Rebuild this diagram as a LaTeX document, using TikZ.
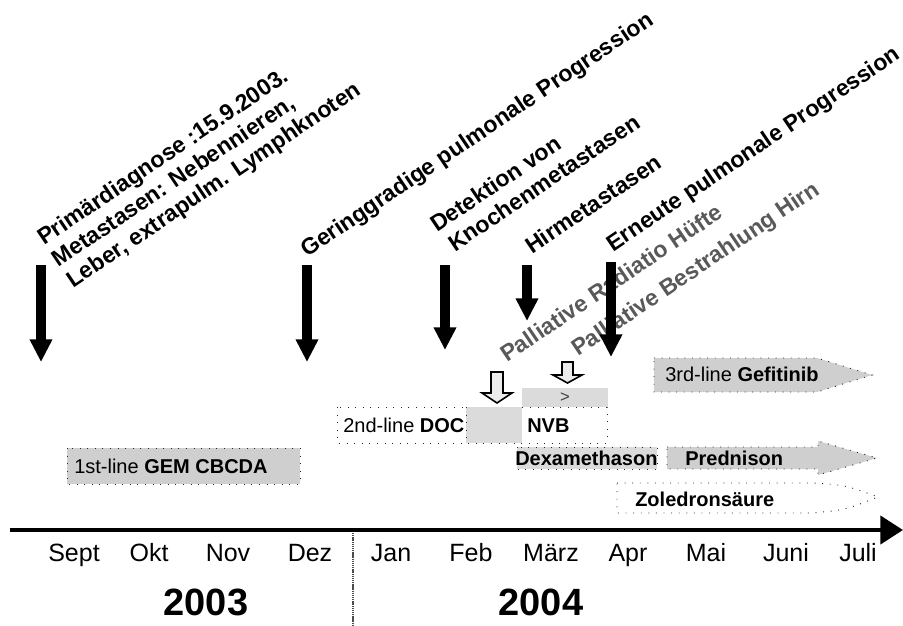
\documentclass[tikz,border=0pt]{standalone}
\usepackage{fontspec}
\setmainfont{Liberation Sans}
\usetikzlibrary{arrows.meta}
\begin{document}
\begin{tikzpicture}[x=0.75pt,y=-0.75pt,
  evlabel/.style={anchor=base west, rotate=34, inner sep=0pt, font=\fontsize{17.25}{20}\selectfont\bfseries},
  pallabel/.style={evlabel, text=black!65},
  evarrow/.style={line width=7.5pt, -{Triangle[width=16pt,length=17pt]}},
  dotbox/.style={draw=black!85, line width=0.7pt, dash pattern=on 0.7pt off 5pt},
  boxtext/.style={font=\fontsize{15}{18}\selectfont, inner sep=0pt, anchor=base west},
  month/.style={font=\fontsize{18.75}{22}\selectfont, anchor=base, inner sep=0pt},
  year/.style={font=\fontsize{28.5}{32}\selectfont\bfseries, anchor=base, inner sep=0pt},
  openarr/.style={draw, line width=1.2pt, fill=black!8},
  darkfill/.style={fill=black!19},
  lightfill/.style={fill=black!14}]
\useasboundingbox (0,0) rectangle (903,625);

% ---------- event labels ----------
\node[evlabel] (l1a) at (44,246) {Primärdiagnose :15.9.2003.};
\node[evlabel] (l1b) at (58.5,267.6) {Metastasen: Nebennieren,};
\node[evlabel] (l1c) at (73,289) {Leber, extrapulm. Lymphknoten};
\node[evlabel] (l2) at (307,258) {Geringgradige pulmonale Progression};
\node[evlabel] (l3a) at (437,233) {Detektion von};
\node[evlabel] (l3b) at (455,252.4) {Knochenmetastasen};
\node[evlabel] (l4) at (532,255) {Hirmetastasen};
\node[evlabel] (l5) at (613,252.5) {Erneute pulmonale Progression};
\node[pallabel] (p1) at (507,363) {Palliative Radiatio Hüfte};
\node[pallabel] (p2) at (578,357) {Palliative Bestrahlung Hirn};

% ---------- event arrows ----------
\coordinate (e1t) at (41,265);  \coordinate (e1b) at (41,362);
\coordinate (e2t) at (307,265); \coordinate (e2b) at (307,362);
\coordinate (e3t) at (445,265); \coordinate (e3b) at (445,350);
\coordinate (e4t) at (527,265); \coordinate (e4b) at (527,321);
\coordinate (e5t) at (611,262); \coordinate (e5b) at (611,357);
\draw[evarrow] (e1t) -- (e1b);
\draw[evarrow] (e2t) -- (e2b);
\draw[evarrow] (e3t) -- (e3b);
\draw[evarrow] (e4t) -- (e4b);
\draw[evarrow] (e5t) -- (e5b);

% ---------- open arrows (radiation) ----------
\coordinate (o1) at (497,372);
\coordinate (o2) at (567.5,362);
\draw[openarr] (o1) ++(-6,0) -- ++(0,21) -- ++(-9,0) -- ++(15,10) -- ++(15,-10) -- ++(-9,0) -- ++(0,-21) -- cycle;
\draw[openarr] (o2) ++(-5.5,0) -- ++(0,13) -- ++(-9,0) -- ++(14.5,8) -- ++(14.5,-8) -- ++(-9,0) -- ++(0,-13) -- cycle;

% ---------- therapy boxes ----------
% 1st line
\draw[dotbox, darkfill] (67,448) rectangle (300,484);
\node[boxtext] (gem) at (74,473) {1st-line \textbf{GEM CBCDA}};

% 2nd line
\draw[dotbox, fill=white] (337,407) rectangle (607,443);
\fill[lightfill] (466,407) rectangle (522,443);
\draw[dotbox] (466,407) -- (466,443);
\node[boxtext] (doc) at (343,432) {2nd-line \textbf{DOC}};
\node[boxtext] (nvb) at (527,432) {\textbf{NVB}};
\fill[lightfill] (522,388) rectangle (608,407);
\node[font=\fontsize{12.5}{14}\selectfont, inner sep=0pt, text=black!75] (gt) at (565,398) {>};

% Dexamethason
\draw[dotbox, lightfill] (517,447) rectangle (657,469);
\node[boxtext] (dex) at (515,465) {\textbf{Dexamethason}};

% Prednison
\draw[dotbox, darkfill] (667,447) -- (818,447) -- (818,441) -- (877,458) -- (818,475) -- (818,469) -- (667,469) -- cycle;
\node[boxtext] (pred) at (685,465) {\textbf{Prednison}};

% Gefitinib
\draw[dotbox, darkfill] (654,358) -- (817,358) -- (872,375) -- (817,392) -- (654,392) -- cycle;
\node[boxtext] (gef) at (665,381) {3rd-line \textbf{Gefitinib}};

% Zoledronsaeure
\draw[dotbox, fill=white] (617,483) -- (812,483) .. controls (845,485) .. (878,497) .. controls (845,510) .. (812,513) -- (617,513) -- cycle;
\node[boxtext] (zol) at (635,506) {\textbf{Zoledronsäure}};

% ---------- time axis ----------
\coordinate (ax0) at (10,530);
\coordinate (ax1) at (903,530);
\draw[line width=3.2pt, -{Triangle[width=21pt,length=17pt]}] (ax0) -- (ax1);
\coordinate (sep0) at (353,533);
\coordinate (sep1) at (353,625);
\draw[black!70, line width=0.9pt, dash pattern=on 1pt off 0.6pt] (sep0) -- (sep1);

\node[month] (m9)  at (74,561)  {Sept};
\node[month] (m10) at (149,561) {Okt};
\node[month] (m11) at (228,561) {Nov};
\node[month] (m12) at (310,561) {Dez};
\node[month] (m1)  at (391,561) {Jan};
\node[month] (m2)  at (471,561) {Feb};
\node[month] (m3)  at (551,561) {März};
\node[month] (m4)  at (628,561) {Apr};
\node[month] (m5)  at (706,561) {Mai};
\node[month] (m6)  at (786,561) {Juni};
\node[month] (m7)  at (858,561) {Juli};

\node[year] (y3) at (206,615) {2003};
\node[year] (y4) at (541,615) {2004};
\end{tikzpicture}
\end{document}
